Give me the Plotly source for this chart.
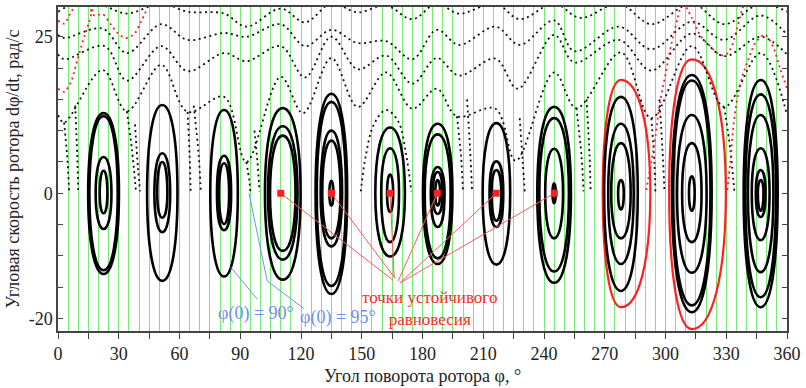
import plotly.graph_objects as go

# ---------------- data ----------------
x_ticks = list(range(0, 361, 15))
x_ticklabels = [str(v) if v % 30 == 0 else "" for v in x_ticks]
y_ticks = list(range(-20, 26, 5))
y_ticklabels = [str(v) if v in (-20, 0, 25) else "" for v in y_ticks]

# closed phase loops (islands): centre angle, top / bottom speed, left / right half-width (deg)
loop_cx = [22.5, 22.5, 22.5, 22.5,
           51.5, 51.5, 51.5,
           82, 82, 82,
           111, 111, 111,
           135, 135, 135, 135, 135,
           164, 164, 164,
           187.5, 187.5, 187.5, 187.5, 187.5,
           216.5, 216.5, 216.5,
           245, 245, 245, 245,
           278, 278, 278, 278, 278,
           313, 313, 313, 313, 313, 313,
           347, 347, 347, 347, 347, 347]
loop_top = [12.8, 12.3, 5.8, 3.6,
            14.1, 6.4, 5.0,
            13.3, 6.0, 4.8,
            13.6, 10.7, 9.2,
            15.9, 14.6, 10.0, 8.4, 2.0,
            10.5, 7.2, 3.0,
            11.1, 9.4, 4.2, 3.4, 2.1,
            11.2, 5.1, 3.7,
            13.8, 12.0, 7.1, 1.6,
            18.1, 15.4, 11.1, 8.0, 2.1,
            21.4, 18.9, 18.0, 12.5, 8.0, 2.7,
            18.1, 15.8, 12.5, 7.2, 3.7, 2.1]
loop_bot = [-12.9, -12.3, -5.7, -3.2,
            -14.0, -6.2, -3.9,
            -13.3, -5.9, -4.9,
            -13.8, -10.6, -9.2,
            -16.1, -14.8, -8.5, -7.2, -2.0,
            -10.1, -7.8, -3.0,
            -11.3, -10.4, -5.4, -3.3, -2.0,
            -11.4, -5.4, -4.4,
            -14.3, -12.5, -7.2, -1.6,
            -18.2, -15.6, -11.3, -7.2, -2.6,
            -21.7, -19.0, -17.9, -12.7, -7.8, -2.8,
            -18.2, -16.6, -12.6, -7.5, -3.8, -2.8]
loop_hl = [7.6, 7.0, 3.9, 1.9,
           7.5, 3.9, 2.5,
           6.8, 3.5, 2.5,
           8.8, 7.3, 6.3,
           7.8, 7.2, 5.3, 4.5, 1.0,
           7.3, 4.4, 1.5,
           7.3, 6.4, 3.4, 2.4, 1.2,
           6.8, 3.4, 2.4,
           8.3, 7.3, 4.4, 0.8,
           9.0, 8.3, 6.3, 4.8, 1.4,
           11.2, 9.8, 9.2, 7.3, 4.8, 1.4,
           8.4, 7.6, 6.3, 4.4, 2.4, 1.4]
loop_hr = [7.6, 7.0, 3.9, 1.9,
           7.5, 3.9, 2.5,
           6.8, 3.5, 2.5,
           8.8, 7.3, 6.3,
           7.8, 7.2, 5.3, 4.5, 1.0,
           7.3, 4.4, 1.5,
           7.3, 6.4, 3.4, 2.4, 1.2,
           6.8, 3.4, 2.4,
           8.3, 7.3, 4.4, 0.8,
           14.5, 8.3, 6.3, 4.8, 1.4,
           16.8, 9.8, 9.2, 7.3, 4.8, 1.4,
           8.4, 7.6, 6.3, 4.4, 2.4, 1.4]
loop_is_red = [False] * 33 + [True, False, False, False, False,
                              True, False, False, False, False, False,
                              False, False, False, False, False, False]

# rotational trajectories (Poincaré dots), black
k1_x = [0, 3, 22, 34, 51, 64, 82, 93, 110, 121, 135, 148, 162, 175, 187, 197, 216, 226, 245, 256, 278, 293, 313, 329, 347, 360]
k1_v = [12.5, 11.3, 19.7, 13.1, 20.5, 13.0, 15.4, 5.0, 18.6, 12.8, 21.6, 13.8, 19.3, 13.5, 16.7, 12.3, 13.5, 5.2, 19.3, 13.6, 22.5, 12.0, 23.5, 13.8, 22.4, 12.5]
k2_x = [0, 3, 23, 34, 51, 64, 82, 93, 110, 122, 135, 148, 162, 175, 187, 198, 216, 227, 245, 255, 277, 293, 313, 329, 347, 360]
k2_v = [22.2, 21.4, 23.5, 18.0, 23.5, 19.5, 22.4, 21.1, 23.5, 18.5, 25.0, 19.8, 22.0, 17.5, 21.6, 18.8, 21.5, 16.7, 25.3, 20.9, 24.5, 19.6, 25.5, 21.9, 25.0, 22.2]
k3_x = [0, 3, 22, 34, 51, 64, 82, 93, 110, 122, 135, 148, 162, 175, 187, 198, 216, 228, 245, 255, 277, 293, 313, 329, 347, 360]
k3_v = [25.3, 24.8, 26.3, 22.4, 27.0, 24.5, 25.6, 25.0, 27.0, 23.5, 26.1, 24.0, 24.3, 21.4, 26.1, 23.7, 26.6, 23.7, 27.6, 22.7, 26.6, 23.0, 27.4, 24.5, 28.4, 25.3]
k4_x = [0, 10, 22, 34, 51, 64, 82, 93, 110, 122, 135, 148, 162, 175, 187, 198, 216, 228, 245, 258, 277, 293, 313, 329, 347, 360]
k4_v = [29.0, 30.5, 30.0, 28.7, 30.3, 29.0, 28.7, 26.6, 29.5, 27.3, 30.3, 28.9, 30.0, 27.8, 30.3, 28.7, 30.3, 27.8, 30.3, 28.0, 30.3, 27.0, 30.3, 27.0, 30.3, 29.0]

# chaotic branches near the saddles
br1_x, br1_v = [3, 4.5, 5.5], [11.3, 6, 0.3]
br2_x, br2_v = [8.5, 9.5, 10], [14, 6, 0.3]
br3_x, br3_v = [34, 36.5, 38.5], [13.1, 7, 0.3]
br4_x, br4_v = [38, 39.5, 40.5], [11, 4, 0.3]
br5_x, br5_v = [64, 65, 65.5], [13, 6, 0.3]
br6_x, br6_v = [67, 69.5, 70.5], [14, 6, 0.3]
br7_x, br7_v = [93, 94.5, 95], [5, 2, 0.3]
br8_x, br8_v = [97, 98.5, 99.5], [10, 5, 0.3]
br9_x, br9_v = [149.5, 152, 156, 162, 168, 172, 174.5], [0.3, 6, 11, 13.3, 11.5, 6, 0.3]
br10_x, br10_v = [197, 199, 200], [12.3, 6, 0.3]
br11_x, br11_v = [202, 203.5, 204.5], [15, 7, 0.3]
br12_x, br12_v = [228, 229.5, 230.5], [12, 5, 0.3]
br13_x, br13_v = [256, 258.5, 259.5], [13.6, 6, 0.3]
br14_x, br14_v = [261, 262.5, 263], [15, 6, 0.3]
br15_x, br15_v = [293, 294.5, 295], [12, 5, 0.3]
br16_x, br16_v = [297, 298.5, 299.5], [15, 7, 0.3]
br17_x, br17_v = [329, 332, 334], [13.8, 7, 0.3]
branches = [(br1_x, br1_v), (br2_x, br2_v), (br3_x, br3_v), (br4_x, br4_v), (br5_x, br5_v),
            (br6_x, br6_v), (br7_x, br7_v), (br8_x, br8_v), (br9_x, br9_v), (br10_x, br10_v),
            (br11_x, br11_v), (br12_x, br12_v), (br13_x, br13_v), (br14_x, br14_v),
            (br15_x, br15_v), (br16_x, br16_v), (br17_x, br17_v)]

# red trajectories
redA_x = [290.5, 293, 295, 297, 300, 303, 306, 308]
redA_v = [0.5, 5, 9, 14, 19, 24, 28, 30.5]
redB_x = [309, 313, 317, 322, 326, 329, 332, 335, 338, 340]
redB_v = [30.5, 28, 25.3, 23.5, 22.3, 22, 23, 26, 29.5, 31]
redC_x = [330.5, 332, 334, 337, 341, 345, 349, 353, 356.5, 360]
redC_v = [0.5, 5, 12, 17.5, 21.5, 24.3, 25.3, 23.5, 20, 16.7]
redD_x = [0, 3, 6, 9, 12, 15, 18]
redD_v = [16.7, 16.2, 17.5, 20.6, 24, 27, 30.5]
redE_x = [0, 3, 6.6, 10, 14, 18, 22, 26, 29.5, 33.6, 37.7, 41, 44]
redE_v = [27.6, 27.1, 29, 30.5, 30.5, 28.4, 28.6, 27, 25.6, 24.8, 25.5, 27.4, 29.5]
red_trajs = [(redA_x, redA_v), (redB_x, redB_v), (redC_x, redC_v), (redD_x, redD_v), (redE_x, redE_v)]

# stable equilibrium points and the ends of their leader lines
eq_x = [110, 135, 164, 187.3, 216.4, 245.1]
eq_v = [0, 0, 0, 0, 0, 0]
lead_x = [165.5, 166.5, 166.0, 168.0, 169.0, 169.0]
lead_v = [-13.9, -13.6, -13.4, -14.0, -14.3, -14.3]

# blue leader lines for the initial-condition labels
blue90_x, blue90_v = [85.3, 98.4], [-11.8, -16.9]
blue95_x, blue95_v = [94.3, 103.3, 121.4], [0, -14, -18.4]

# ---------------- figure ----------------
GREEN = "rgb(118,236,118)"
BLACK = "#111111"
RED = "#ff1f1f"
BLUE = "#6f8fef"
FONT = "Liberation Serif"

fig = go.Figure()

dot_dash = "2px,3.5px"
for xs, vs in [(k1_x, k1_v), (k2_x, k2_v), (k3_x, k3_v), (k4_x, k4_v)]:
    fig.add_trace(go.Scatter(x=xs, y=vs, mode="lines",
                             line=dict(color=BLACK, width=1.8, dash=dot_dash, shape="spline", smoothing=1),
                             hoverinfo="skip", showlegend=False))
for xs, vs in branches:
    fig.add_trace(go.Scatter(x=xs, y=vs, mode="lines",
                             line=dict(color=BLACK, width=1.8, dash=dot_dash, shape="spline", smoothing=1),
                             hoverinfo="skip", showlegend=False))
for xs, vs in red_trajs:
    fig.add_trace(go.Scatter(x=xs, y=vs, mode="lines",
                             line=dict(color=RED, width=1.8, dash=dot_dash, shape="spline", smoothing=1),
                             hoverinfo="skip", showlegend=False))

# blue leader lines
for xs, vs in [(blue90_x, blue90_v), (blue95_x, blue95_v)]:
    fig.add_trace(go.Scatter(x=xs, y=vs, mode="lines", line=dict(color=BLUE, width=1),
                             hoverinfo="skip", showlegend=False))

# red leader lines
lx, lv = [], []
for ex, ev, tx, tv in zip(eq_x, eq_v, lead_x, lead_v):
    lx += [ex, tx, None]
    lv += [ev, tv, None]
fig.add_trace(go.Scatter(x=lx, y=lv, mode="lines", line=dict(color="#ff5a5a", width=1),
                         hoverinfo="skip", showlegend=False))

fig.add_trace(go.Scatter(x=eq_x, y=eq_v, mode="markers",
                         marker=dict(symbol="square", size=7, color=RED),
                         hoverinfo="skip", showlegend=False))


def loop_path(cx, top, bot, hl, hr, k=0.6):
    return (f"M {cx},{top} C {cx + k * hr},{top} {cx + hr},{k * top} {cx + hr},0 "
            f"C {cx + hr},{k * bot} {cx + k * hr},{bot} {cx},{bot} "
            f"C {cx - k * hl},{bot} {cx - hl},{k * bot} {cx - hl},0 "
            f"C {cx - hl},{k * top} {cx - k * hl},{top} {cx},{top} Z")


shapes = []
for cx, t, b, hl, hr, isred in zip(loop_cx, loop_top, loop_bot, loop_hl, loop_hr, loop_is_red):
    shapes.append(dict(type="path", xref="x", yref="y", layer="between",
                       path=loop_path(cx, t, b, hl, hr),
                       line=dict(color=RED if isred else "#000000", width=2.2 if isred else 2.6)))

annotations = [
    dict(x=98.0, y=-19.2, xref="x", yref="y", text="φ(0) = 90°", showarrow=False,
         font=dict(family=FONT, size=18, color=BLUE), xanchor="center", yanchor="middle"),
    dict(x=138.1, y=-19.8, xref="x", yref="y", text="φ(0) = 95°", showarrow=False,
         font=dict(family=FONT, size=18, color=BLUE), xanchor="center", yanchor="middle"),
    dict(x=183.3, y=-18.4, xref="x", yref="y", text="точки устойчивого<br>равновесия",
         showarrow=False, align="center", xanchor="center", yanchor="middle",
         font=dict(family=FONT, size=17, color="#ff2a2a")),
]

fig.update_layout(
    width=806, height=388,
    margin=dict(l=58, r=17, t=5, b=52),
    paper_bgcolor="white", plot_bgcolor="white",
    shapes=shapes, annotations=annotations,
    font=dict(family=FONT, size=18, color="#222222"),
)
fig.update_xaxes(
    range=[0, 360], tickmode="array", tickvals=x_ticks, ticktext=x_ticklabels,
    ticks="outside", ticklen=6, tickwidth=1.2, tickcolor="#444",
    showline=True, linecolor="#444", linewidth=1.5, mirror=True,
    showgrid=True, gridcolor=GREEN, gridwidth=1, zeroline=False,
    minor=dict(dtick=5, tick0=0, showgrid=True, gridcolor=GREEN, gridwidth=1, ticks=""),
    tickfont=dict(family=FONT, size=18, color="#222"),
    title=dict(text="Угол поворота ротора φ, °", font=dict(family=FONT, size=18, color="#222"), standoff=6),
)
fig.update_yaxes(
    range=[-22.0, 29.75], tickmode="array", tickvals=y_ticks, ticktext=y_ticklabels,
    ticks="inside", ticklen=5, tickwidth=1.2, tickcolor="#444",
    showline=True, linecolor="#444", linewidth=1.5, mirror="ticks",
    showgrid=False, zeroline=False,
    tickfont=dict(family=FONT, size=18, color="#222"),
    title=dict(text="Угловая скорость ротора dφ/dt, рад/с", font=dict(family=FONT, size=18, color="#222"), standoff=4),
)

fig.write_html("out.html")
